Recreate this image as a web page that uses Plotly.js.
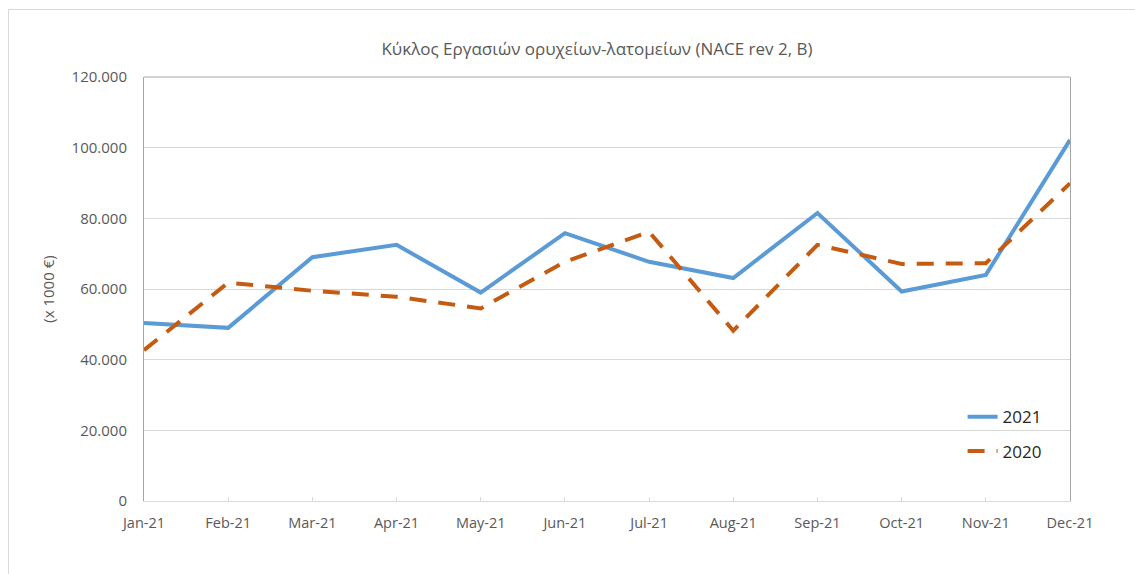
<!DOCTYPE html>
<html>
<head>
<meta charset="utf-8">
<script src="https://cdn.plot.ly/plotly-3.0.1.min.js"></script>
<style>
html,body{margin:0;padding:0;background:#fff;}
#wrap{position:relative;width:1135px;height:574px;overflow:hidden;}
#frame{position:absolute;left:8px;top:9px;width:1200px;height:700px;border:1px solid #d9d9d9;box-sizing:border-box;}
#chart{position:absolute;left:0;top:0;width:1135px;height:574px;}
</style>
</head>
<body>
<div id="wrap"><div id="frame"></div><div id="chart"></div></div>
<script>
const months = ["Jan-21","Feb-21","Mar-21","Apr-21","May-21","Jun-21","Jul-21","Aug-21","Sep-21","Oct-21","Nov-21","Dec-21"];
const values2021 = [50400, 49000, 69000, 72500, 59000, 75800, 67700, 63100, 81500, 59300, 64000, 102200];
const values2020 = [42700, 61800, 59500, 57800, 54500, 67700, 76200, 48200, 72500, 67100, 67300, 89900];
const titleText = "Κύκλος Εργασιών ορυχείων-λατομείων (NACE rev 2, B)";
const yTitle = "(x 1000 €)";
const yTicks = [0, 20000, 40000, 60000, 80000, 100000, 120000];

const font = "Open Sans, Liberation Sans, sans-serif";
const traces = [
  {x: months, y: values2021, name: "2021", type: "scatter", mode: "lines",
   line: {color: "#5B9BD5", width: 4}, legendgroup: "a"},
  {x: months, y: values2020, name: "2020", type: "scatter", mode: "lines",
   line: {color: "#C55A11", width: 4, dash: "17px,12px"}, legendgroup: "b"}
];
const layout = {
  width: 1135, height: 574,
  paper_bgcolor: "rgba(0,0,0,0)", plot_bgcolor: "rgba(0,0,0,0)",
  margin: {l: 144, r: 65, t: 77, b: 73},
  separators: ",.",
  font: {family: font, color: "#595959", size: 14},
  title: {text: titleText, font: {family: font, size: 17, color: "#595959"},
          x: 0.526, xanchor: "center", y: 0.915, yanchor: "middle"},
  xaxis: {type: "category", range: [0, 11], showgrid: false, zeroline: false,
          showline: true, linecolor: "#d9d9d9", linewidth: 1,
          ticks: "inside", ticklen: 4, tickcolor: "#d9d9d9", ticklabelstandoff: 9,
          tickfont: {family: font, size: 14.5, color: "#595959"}},
  yaxis: {range: [0, 120000], tickvals: yTicks, tickformat: ",d",
          showgrid: true, gridcolor: "#d9d9d9", gridwidth: 1, zeroline: false,
          showline: true, linecolor: "#a6a6a6", linewidth: 1, mirror: true,
          ticks: "", ticklabelstandoff: 13,
          tickfont: {family: font, size: 15, color: "#595959"},
          title: {text: yTitle, font: {family: font, size: 15, color: "#595959"}, standoff: 13}},
  showlegend: true,
  legend: {x: 0.884, y: 0.24, xanchor: "left", yanchor: "top",
           bgcolor: "rgba(0,0,0,0)", tracegroupgap: 9, traceorder: "grouped",
           font: {family: font, size: 17, color: "#262626"}},
  shapes: [{type: "line", xref: "paper", yref: "paper", x0: 0, x1: 1, y0: 1, y1: 1,
            line: {color: "#a6a6a6", width: 1}}]
};
Plotly.newPlot("chart", traces, layout, {displayModeBar: false, staticPlot: true});
</script>
</body>
</html>
